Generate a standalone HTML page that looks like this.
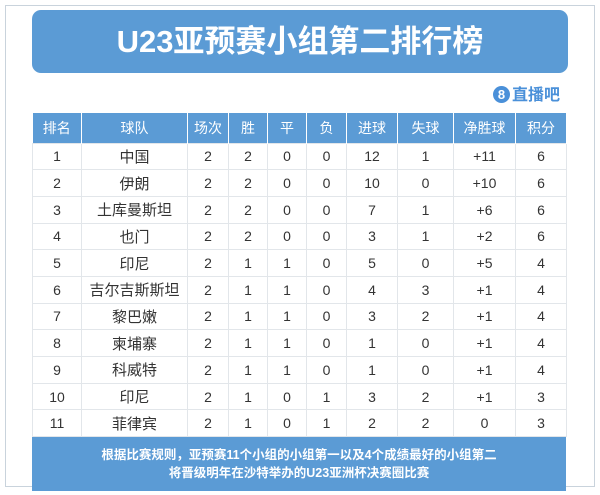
<!DOCTYPE html>
<html><head><meta charset="utf-8"><style>
*{margin:0;padding:0;box-sizing:border-box}
body{width:600px;height:495px;background:#fff;position:relative;overflow:hidden;font-family:"Liberation Sans","Noto Sans CJK SC",sans-serif}
.frame{position:absolute;left:5px;top:5px;width:590px;height:482px;border:1px solid #c9d3dc}
.title{position:absolute;left:32px;top:10px;width:536px;height:63px;background:#5b9bd5;border-radius:9px;color:#fff;font-size:31px;font-weight:bold;text-align:center;line-height:63px}
.logo{position:absolute;left:493px;top:81px;font-size:16px;font-weight:bold;color:#4a90d9}
.logo span{display:inline-block;width:17px;height:17px;border-radius:50%;background:#4a90d9;color:#fff;font-size:13px;text-align:center;line-height:17px;margin-right:2px;vertical-align:1px}
table{position:absolute;left:32px;top:113px;width:534px;border-collapse:collapse;table-layout:fixed}
th{background:#5b9bd5;color:#fff;font-size:14px;height:30px;border-right:1px solid #fff;font-weight:normal}
td{height:26.7px;text-align:center;font-size:14px;color:#333;border:1px solid #e2e6ea}
td:nth-child(2){font-size:15px}
.foot{position:absolute;left:32px;top:437px;width:534px;height:54px;background:#5b9bd5;color:#fff;font-size:12.5px;font-weight:bold;text-align:center;line-height:18px;padding-top:9px}
</style></head><body>
<div class="frame"></div>
<div class="title">U23亚预赛小组第二排行榜</div>
<div class="logo"><span>8</span>直播吧</div>
<table>
<colgroup><col style="width:49px"><col style="width:106px"><col style="width:41px"><col style="width:39px"><col style="width:39px"><col style="width:40px"><col style="width:51px"><col style="width:56px"><col style="width:62px"><col style="width:51px"></colgroup>
<tr><th>排名</th><th>球队</th><th>场次</th><th>胜</th><th>平</th><th>负</th><th>进球</th><th>失球</th><th>净胜球</th><th>积分</th></tr>
<tr><td>1</td><td>中国</td><td>2</td><td>2</td><td>0</td><td>0</td><td>12</td><td>1</td><td>+11</td><td>6</td></tr>
<tr><td>2</td><td>伊朗</td><td>2</td><td>2</td><td>0</td><td>0</td><td>10</td><td>0</td><td>+10</td><td>6</td></tr>
<tr><td>3</td><td>土库曼斯坦</td><td>2</td><td>2</td><td>0</td><td>0</td><td>7</td><td>1</td><td>+6</td><td>6</td></tr>
<tr><td>4</td><td>也门</td><td>2</td><td>2</td><td>0</td><td>0</td><td>3</td><td>1</td><td>+2</td><td>6</td></tr>
<tr><td>5</td><td>印尼</td><td>2</td><td>1</td><td>1</td><td>0</td><td>5</td><td>0</td><td>+5</td><td>4</td></tr>
<tr><td>6</td><td>吉尔吉斯斯坦</td><td>2</td><td>1</td><td>1</td><td>0</td><td>4</td><td>3</td><td>+1</td><td>4</td></tr>
<tr><td>7</td><td>黎巴嫩</td><td>2</td><td>1</td><td>1</td><td>0</td><td>3</td><td>2</td><td>+1</td><td>4</td></tr>
<tr><td>8</td><td>柬埔寨</td><td>2</td><td>1</td><td>1</td><td>0</td><td>1</td><td>0</td><td>+1</td><td>4</td></tr>
<tr><td>9</td><td>科威特</td><td>2</td><td>1</td><td>1</td><td>0</td><td>1</td><td>0</td><td>+1</td><td>4</td></tr>
<tr><td>10</td><td>印尼</td><td>2</td><td>1</td><td>0</td><td>1</td><td>3</td><td>2</td><td>+1</td><td>3</td></tr>
<tr><td>11</td><td>菲律宾</td><td>2</td><td>1</td><td>0</td><td>1</td><td>2</td><td>2</td><td>0</td><td>3</td></tr>
</table>
<div class="foot">根据比赛规则，亚预赛11个小组的小组第一以及4个成绩最好的小组第二<br>将晋级明年在沙特举办的U23亚洲杯决赛圈比赛</div>
</body></html>
